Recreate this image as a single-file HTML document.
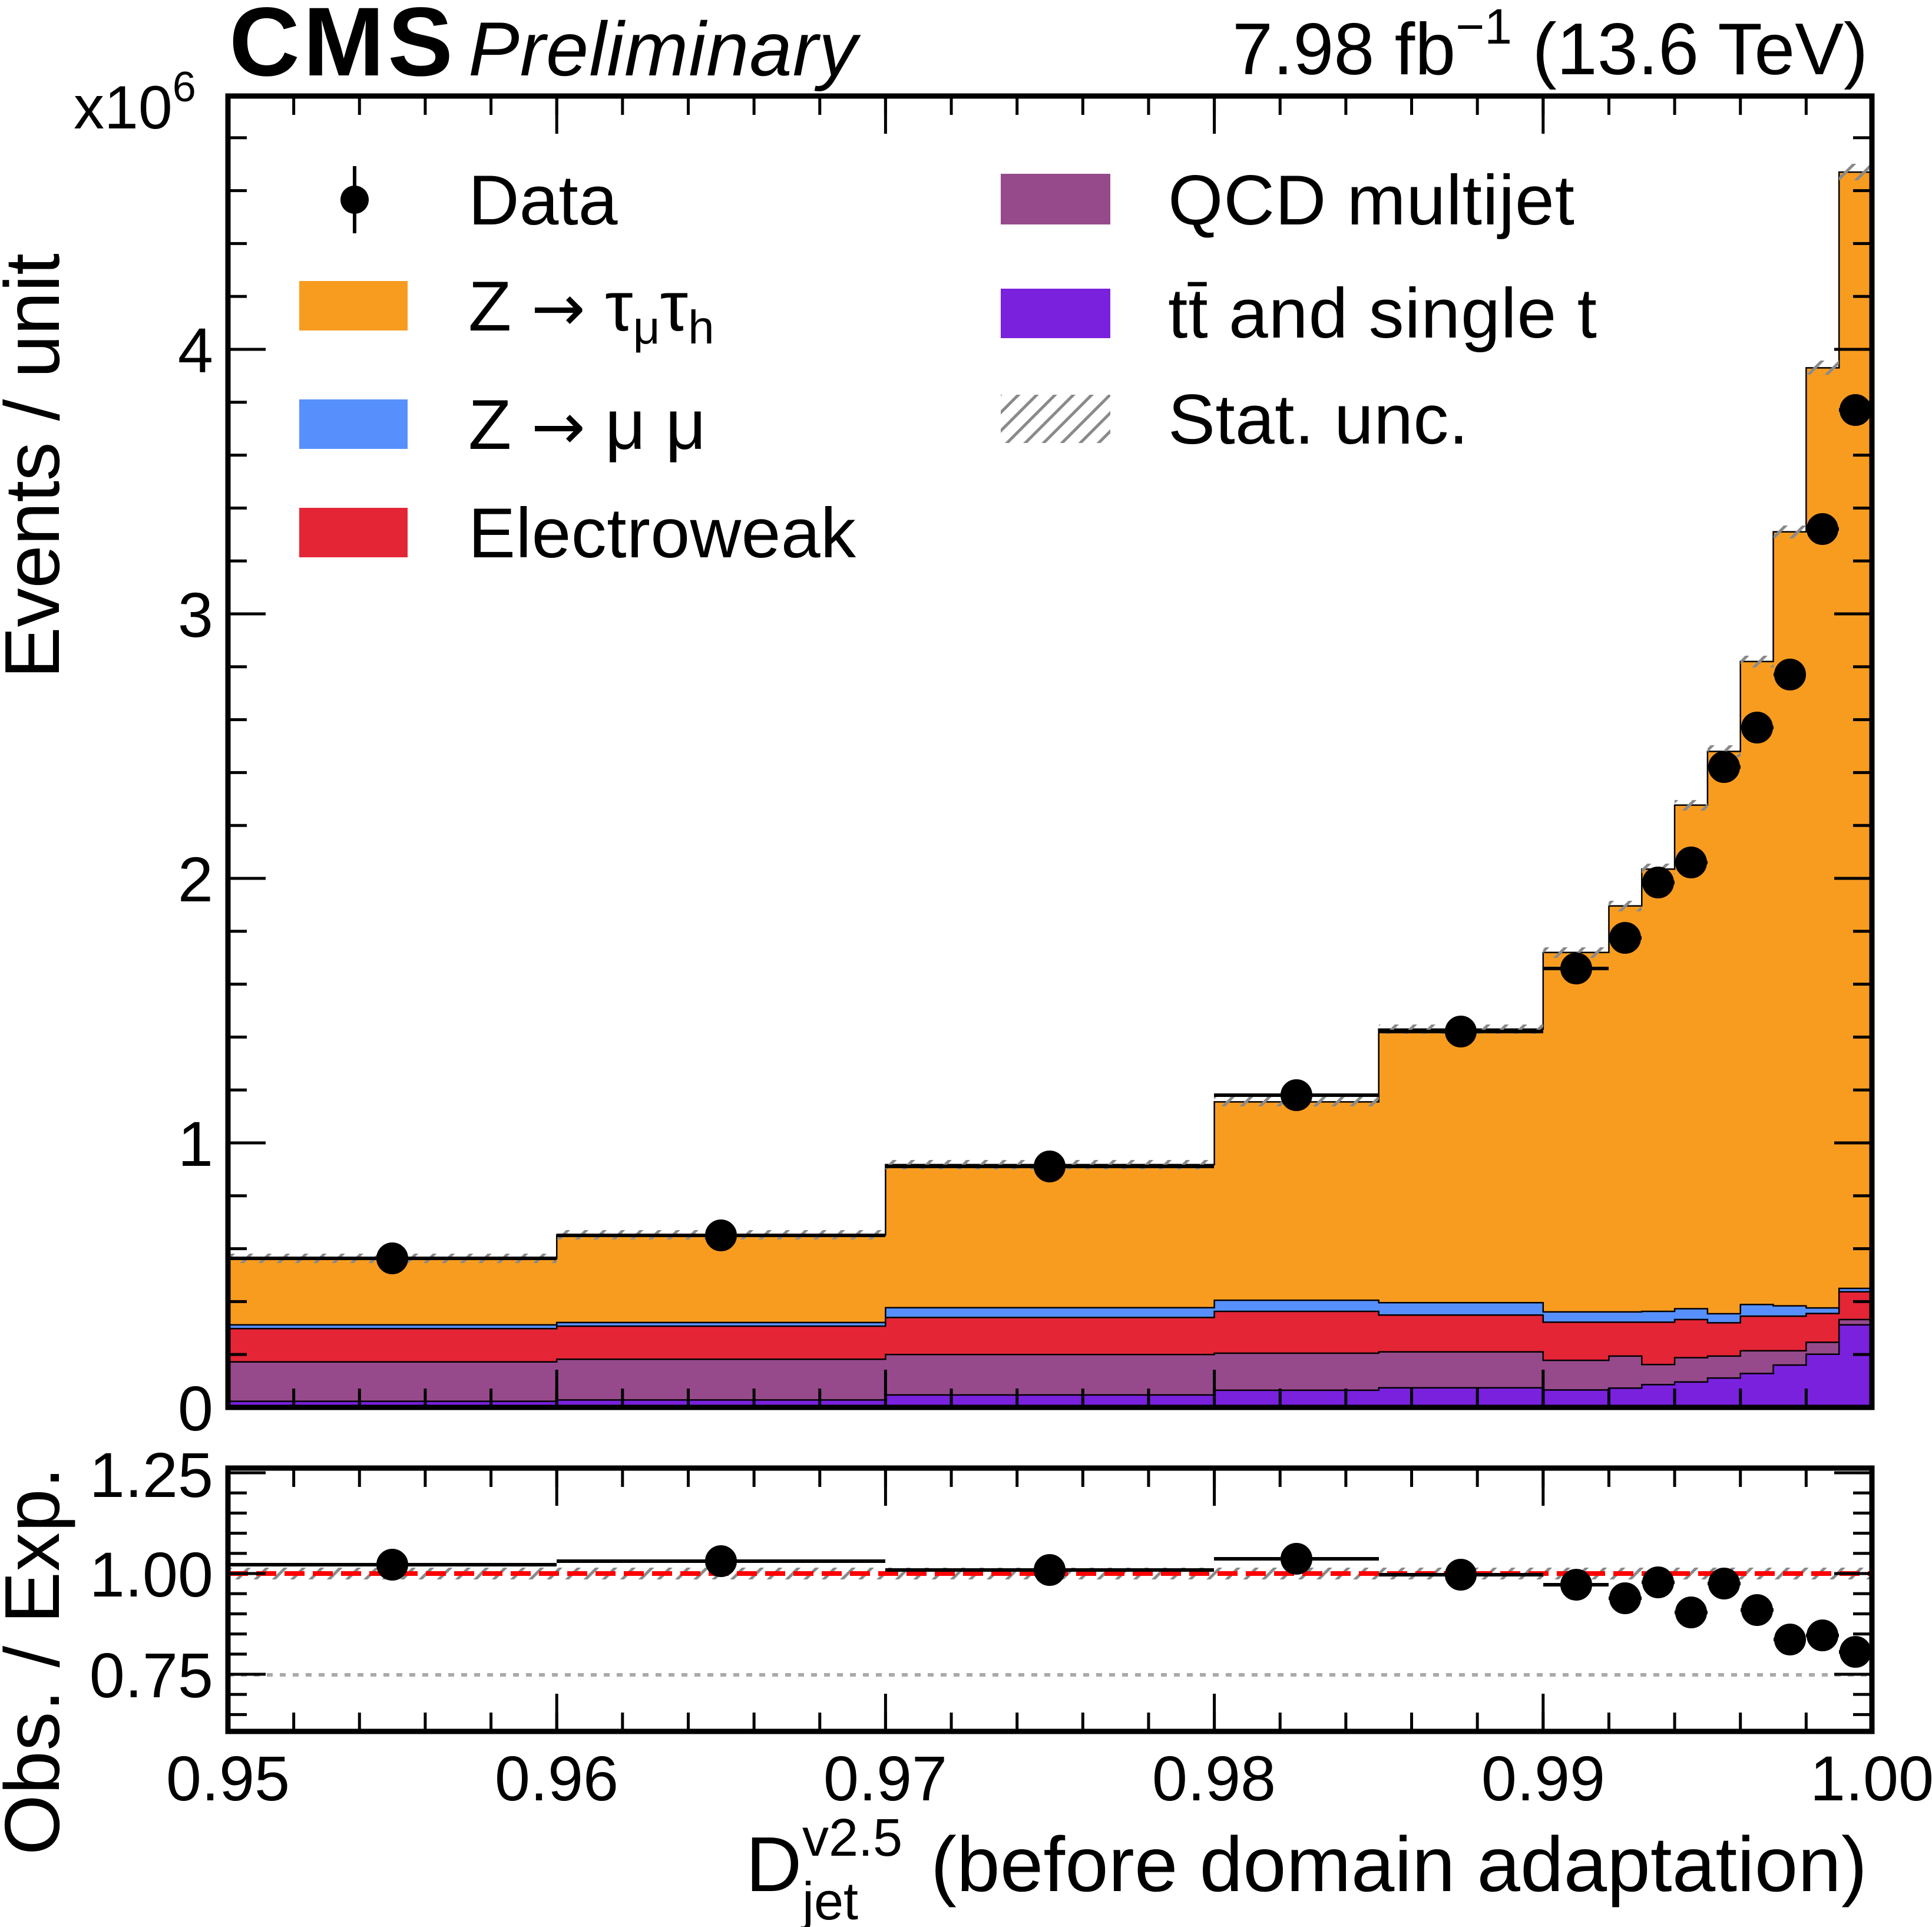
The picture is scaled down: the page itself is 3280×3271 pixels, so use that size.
<!DOCTYPE html>
<html><head><meta charset="utf-8"><style>
html,body{margin:0;padding:0;background:#fff}
svg{display:block}
text{font-family:"Liberation Sans",sans-serif;fill:#000}
</style></head><body>
<svg width="3280" height="3271" viewBox="0 0 3280 3271" xmlns="http://www.w3.org/2000/svg">
<defs>
<pattern id="hatch" patternUnits="userSpaceOnUse" width="22" height="22" patternTransform="rotate(45)">
<rect x="0" y="0" width="5" height="22" fill="#8a8a8a"/></pattern>
<pattern id="xmin" patternUnits="userSpaceOnUse" x="384.5" y="0" width="111.64" height="50"><rect width="5" height="50" fill="#000"/></pattern>
<pattern id="xmaj" patternUnits="userSpaceOnUse" x="384.5" y="0" width="558.2" height="80"><rect width="5" height="80" fill="#000"/></pattern>
<pattern id="ymin" patternUnits="userSpaceOnUse" x="0" y="2386.5" width="50" height="89.8"><rect width="50" height="5" fill="#000"/></pattern>
<pattern id="ymaj" patternUnits="userSpaceOnUse" x="0" y="2386.5" width="80" height="449"><rect width="80" height="5" fill="#000"/></pattern>
<pattern id="rmin" patternUnits="userSpaceOnUse" x="0" y="2668.5" width="50" height="34.2"><rect width="50" height="5" fill="#000"/></pattern>
<pattern id="rmaj" patternUnits="userSpaceOnUse" x="0" y="2668.5" width="80" height="171"><rect width="80" height="5" fill="#000"/></pattern>
</defs>

<g transform="translate(387,2389) scale(55.82,-449)">
<path fill="#f89c20" stroke="#000" stroke-width="2.5" vector-effect="non-scaling-stroke" d="M0 0V.563H10V.652H20V.918H30V1.155H35V1.43H40V1.72H42V1.896H43V2.035H44V2.277H45V2.48H46V2.82H47V3.31H48V3.93H49V4.67H50V0Z"/>
<path fill="#5790fc" stroke="#000" stroke-width="2.5" vector-effect="non-scaling-stroke" d="M0 0V.312H10V.321H20V.377H30V.405H35V.396H40V.361H42V.361H43V.363H44V.373H45V.354H46V.389H47V.384H48V.376H49V.45H50V0Z"/>
<path fill="#e42536" stroke="#000" stroke-width="2.5" vector-effect="non-scaling-stroke" d="M0 0V.298H10V.307H20V.34H30V.363H35V.349H40V.322H42V.322H43V.322H44V.332H45V.32H46V.345H47V.345H48V.355H49V.437H50V0Z"/>
<path fill="#964a8b" stroke="#000" stroke-width="2.5" vector-effect="non-scaling-stroke" d="M0 0V.172H10V.182H20V.2H30V.205H35V.21H40V.178H42V.194H43V.162H44V.188H45V.194H46V.214H47V.214H48V.246H49V.332H50V0Z"/>
<path fill="#7a21dd" stroke="#000" stroke-width="2.5" vector-effect="non-scaling-stroke" d="M0 0V.023H10V.028H20V.047H30V.065H35V.074H40V.066H42V.073H43V.086H44V.096H45V.111H46V.128H47V.16H48V.201H49V.312H50V0Z"/>
</g>

<g fill="url(#hatch)">
<rect x="387" y="2128" width="558" height="16"/>
<rect x="945" y="2088" width="558" height="16"/>
<rect x="1503" y="1969" width="558" height="16"/>
<rect x="2061" y="1862" width="280" height="16"/>
<rect x="2341" y="1739" width="279" height="16"/>
<rect x="2620" y="1608" width="111" height="18"/>
<rect x="2731" y="1529" width="56" height="18"/>
<rect x="2787" y="1466" width="56" height="18"/>
<rect x="2843" y="1358" width="56" height="18"/>
<rect x="2899" y="1265" width="56" height="20"/>
<rect x="2955" y="1113" width="56" height="20"/>
<rect x="3011" y="892" width="55" height="22"/>
<rect x="3066" y="612" width="56" height="24"/>
<rect x="3122" y="278" width="56" height="28"/>
</g>

<g fill="#000" stroke="#000" stroke-width="6">
<line x1="387" y1="2136" x2="945" y2="2136"/><circle cx="666" cy="2136" r="24"/>
<line x1="945" y1="2097" x2="1503" y2="2097"/><circle cx="1224" cy="2097" r="24"/>
<line x1="1503" y1="1980" x2="2061" y2="1980"/><circle cx="1782" cy="1980" r="24"/>
<line x1="2061" y1="1859" x2="2341" y2="1859"/><circle cx="2201" cy="1859" r="24"/>
<line x1="2341" y1="1751" x2="2620" y2="1751"/><circle cx="2480" cy="1751" r="24"/>
<line x1="2620" y1="1644" x2="2731" y2="1644"/><circle cx="2676" cy="1644" r="24"/>
<line x1="2731" y1="1592" x2="2787" y2="1592"/><circle cx="2759" cy="1592" r="24"/>
<line x1="2787" y1="1498" x2="2843" y2="1498"/><circle cx="2815" cy="1498" r="24"/>
<line x1="2843" y1="1464" x2="2899" y2="1464"/><circle cx="2871" cy="1464" r="24"/>
<line x1="2899" y1="1302" x2="2955" y2="1302"/><circle cx="2927" cy="1302" r="24"/>
<line x1="2955" y1="1235" x2="3011" y2="1235"/><circle cx="2983" cy="1235" r="24"/>
<line x1="3011" y1="1145" x2="3066" y2="1145"/><circle cx="3039" cy="1145" r="24"/>
<line x1="3066" y1="898" x2="3122" y2="898"/><circle cx="3094" cy="898" r="24"/>
<line x1="3122" y1="696" x2="3178" y2="696"/><circle cx="3150" cy="696" r="24"/>
</g>

<rect x="387" y="2661" width="2791" height="20" fill="url(#hatch)"/>
<line x1="387" y1="2843" x2="3178" y2="2843" stroke="#aaa" stroke-width="6" stroke-dasharray="10 12"/>
<line x1="387" y1="2671" x2="3178" y2="2671" stroke="#ff0000" stroke-width="8" stroke-dasharray="34 14"/>
<g fill="#000" stroke="#000" stroke-width="6">
<line x1="387" y1="2656" x2="945" y2="2656"/><circle cx="666" cy="2656" r="24"/>
<line x1="945" y1="2650" x2="1503" y2="2650"/><circle cx="1224" cy="2650" r="24"/>
<line x1="1503" y1="2665" x2="2061" y2="2665"/><circle cx="1782" cy="2665" r="24"/>
<line x1="2061" y1="2646" x2="2341" y2="2646"/><circle cx="2201" cy="2646" r="24"/>
<line x1="2341" y1="2673" x2="2620" y2="2673"/><circle cx="2480" cy="2673" r="24"/>
<line x1="2620" y1="2690" x2="2731" y2="2690"/><circle cx="2676" cy="2690" r="24"/>
<line x1="2731" y1="2713" x2="2787" y2="2713"/><circle cx="2759" cy="2713" r="24"/>
<line x1="2787" y1="2686" x2="2843" y2="2686"/><circle cx="2815" cy="2686" r="24"/>
<line x1="2843" y1="2737" x2="2899" y2="2737"/><circle cx="2871" cy="2737" r="24"/>
<line x1="2899" y1="2688" x2="2955" y2="2688"/><circle cx="2927" cy="2688" r="24"/>
<line x1="2955" y1="2733" x2="3011" y2="2733"/><circle cx="2983" cy="2733" r="24"/>
<line x1="3011" y1="2783" x2="3066" y2="2783"/><circle cx="3039" cy="2783" r="24"/>
<line x1="3066" y1="2776" x2="3122" y2="2776"/><circle cx="3094" cy="2776" r="24"/>
<line x1="3122" y1="2804" x2="3178" y2="2804"/><circle cx="3150" cy="2804" r="24"/>
</g>

<rect x="384" y="167" width="2800" height="28" fill="url(#xmin)"/>
<rect x="384" y="167" width="2800" height="60" fill="url(#xmaj)"/>
<rect x="384" y="2357" width="2800" height="28" fill="url(#xmin)"/>
<rect x="384" y="2325" width="2800" height="60" fill="url(#xmaj)"/>
<rect x="384" y="2496" width="2800" height="28" fill="url(#xmin)"/>
<rect x="384" y="2496" width="2800" height="60" fill="url(#xmaj)"/>
<rect x="384" y="2907" width="2800" height="28" fill="url(#xmin)"/>
<rect x="384" y="2875" width="2800" height="60" fill="url(#xmaj)"/>
<rect x="391" y="165" width="28" height="2226" fill="url(#ymin)"/>
<rect x="391" y="165" width="60" height="2226" fill="url(#ymaj)"/>
<rect x="3146" y="165" width="28" height="2226" fill="url(#ymin)"/>
<rect x="3114" y="165" width="60" height="2226" fill="url(#ymaj)"/>
<rect x="391" y="2494" width="28" height="443" fill="url(#rmin)"/>
<rect x="391" y="2494" width="60" height="443" fill="url(#rmaj)"/>
<rect x="3146" y="2494" width="28" height="443" fill="url(#rmin)"/>
<rect x="3114" y="2494" width="60" height="443" fill="url(#rmaj)"/>

<rect x="387" y="163" width="2791" height="2226" fill="none" stroke="#000" stroke-width="9"/>
<rect x="387" y="2492" width="2791" height="447" fill="none" stroke="#000" stroke-width="9"/>

<line x1="602" y1="282" x2="602" y2="396" stroke="#000" stroke-width="6"/>
<circle cx="602" cy="339" r="24"/>
<rect x="508" y="477" width="184" height="84" fill="#f89c20"/>
<rect x="508" y="678" width="184" height="84" fill="#5790fc"/>
<rect x="508" y="862" width="184" height="84" fill="#e42536"/>
<rect x="1699" y="295" width="186" height="86" fill="#964a8b"/>
<rect x="1699" y="490" width="186" height="84" fill="#7a21dd"/>
<rect x="1699" y="670" width="186" height="82" fill="url(#hatch)"/>
<g font-size="120">
<text x="795" y="381">Data</text>
<text x="795" y="561">Z <tspan font-family="DejaVu Sans" font-size="110">→</tspan> τ<tspan font-size="80" dy="22">μ</tspan><tspan dy="-22">τ</tspan><tspan font-size="80" dy="22">h</tspan></text>
<text x="795" y="762">Z <tspan font-family="DejaVu Sans" font-size="110">→</tspan> μ μ</text>
<text x="795" y="946" textLength="658">Electroweak</text>
<text x="1983" y="381" textLength="690">QCD multijet</text>
<text x="1983" y="573" textLength="728">tt̄ and single t</text>
<text x="1983" y="753" textLength="510">Stat. unc.</text>
</g>

<text x="389" y="128" font-size="166" font-weight="bold" textLength="380">CMS</text>
<text x="795" y="128" font-size="130" font-style="italic" textLength="660">Preliminary</text>
<text x="2092" y="126" font-size="124">7.98 fb<tspan font-size="84" dy="-52">−1</tspan><tspan dy="52"> (13.6 TeV)</tspan></text>
<text x="125" y="218" font-size="104">x10<tspan font-size="72" dy="-46">6</tspan></text>

<g font-size="108" text-anchor="end">
<text x="362" y="2428">0</text>
<text x="362" y="1979">1</text>
<text x="362" y="1530">2</text>
<text x="362" y="1081">3</text>
<text x="362" y="632">4</text>
<text x="362" y="2541">1.25</text>
<text x="362" y="2710">1.00</text>
<text x="362" y="2881">0.75</text>
</g>
<g font-size="108" text-anchor="middle">
<text x="387" y="3056">0.95</text>
<text x="945" y="3056">0.96</text>
<text x="1503" y="3056">0.97</text>
<text x="2061" y="3056">0.98</text>
<text x="2620" y="3056">0.99</text>
<text x="3178" y="3056">1.00</text>
</g>

<text x="1266" y="3210" font-size="132">D</text>
<text x="1362" y="3150" font-size="90">v2.5</text>
<text x="1362" y="3258" font-size="90">jet</text>
<text x="1580" y="3210" font-size="132" textLength="1590">(before domain adaptation)</text>
<text transform="translate(100,430) rotate(-90)" font-size="132" text-anchor="end" textLength="722">Events / unit</text>
<text transform="translate(100,2490) rotate(-90)" font-size="132" text-anchor="end" textLength="659">Obs. / Exp.</text>
</svg>
</body></html>
